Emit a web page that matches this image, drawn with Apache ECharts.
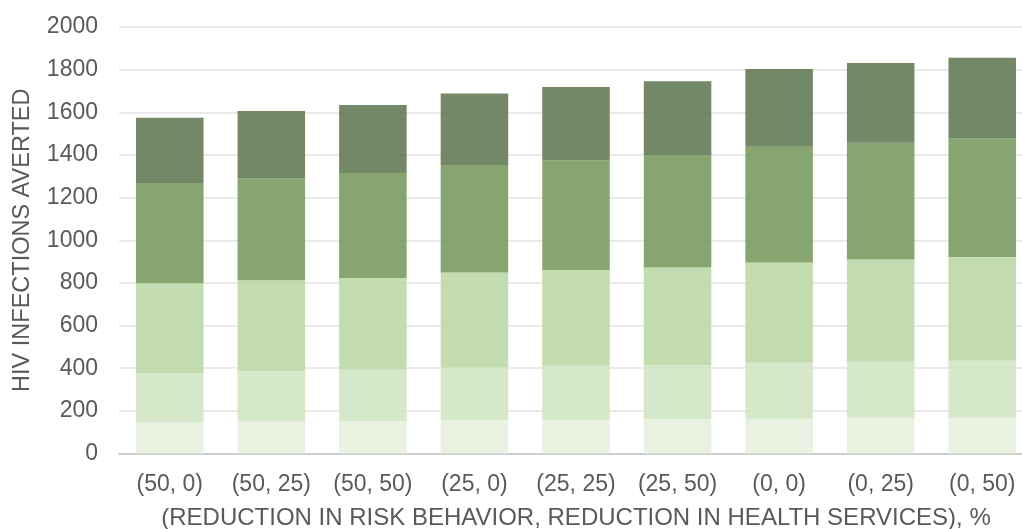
<!DOCTYPE html>
<html><head><meta charset="utf-8">
<script src="https://cdn.jsdelivr.net/npm/echarts@6/dist/echarts.min.js"></script>
<style>html,body{margin:0;padding:0;background:#fff}#c{width:1022px;height:529px}</style>
</head><body><div id="c"></div>
<script>
var categories = ['(50, 0)','(50, 25)','(50, 50)','(25, 0)','(25, 25)','(25, 50)','(0, 0)','(0, 25)','(0, 50)'];
var seg1 = [147,150,152,157,157,162,163,168,168];
var seg2 = [230,236,241,246,254,253,262,262,267];
var seg3 = [421,426,430,446,450,457,471,480,486];
var seg4 = [470,479,492,504,514,525,542,547,557];
var seg5 = [306,315,319,335,344,349,365,374,378];
var yTicks = [0,200,400,600,800,1000,1200,1400,1600,1800,2000];
var segs = [seg1,seg2,seg3,seg4,seg5];
var colors = ['#e7f1de','#d2e6c5','#bed9a9','#7d9d62','#667e59'];
var font = 'Liberation Sans, Arial, sans-serif';
var chart = echarts.init(document.getElementById('c'));
chart.setOption({
  animation:false,
  grid:{left:119,top:27,width:914,bottom:75.5,containLabel:false,outerBoundsMode:'none'},
  xAxis:{type:'category',data:categories,
    axisLine:{lineStyle:{color:'#c4c4c4',width:1.5}},axisTick:{show:false},
    axisLabel:{color:'#595959',fontSize:23,fontFamily:font,margin:20,interval:0,hideOverlap:false},
    name:'(REDUCTION IN RISK BEHAVIOR, REDUCTION IN HEALTH SERVICES), %',
    nameLocation:'middle',nameGap:53,
    nameTextStyle:{color:'#595959',fontSize:24,fontFamily:font}},
  yAxis:{type:'value',min:yTicks[0],max:yTicks[yTicks.length-1],interval:200,
    axisLine:{show:false},axisTick:{show:false},
    splitLine:{lineStyle:{color:'#e3e3e3',width:1.5}},
    axisLabel:{color:'#595959',fontSize:23,fontFamily:font,margin:21,
      formatter:function(v){return String(v);}},
    name:'HIV INFECTIONS AVERTED',nameLocation:'middle',nameGap:84,nameRotate:90,
    nameTextStyle:{color:'#595959',fontSize:23.5,fontFamily:font}},
  series:segs.map(function(d,i){return {type:'bar',stack:'a',data:d,barCategoryGap:'33.5%',
    itemStyle:{color:colors[i],opacity:0.92}};})
});
</script></body></html>
